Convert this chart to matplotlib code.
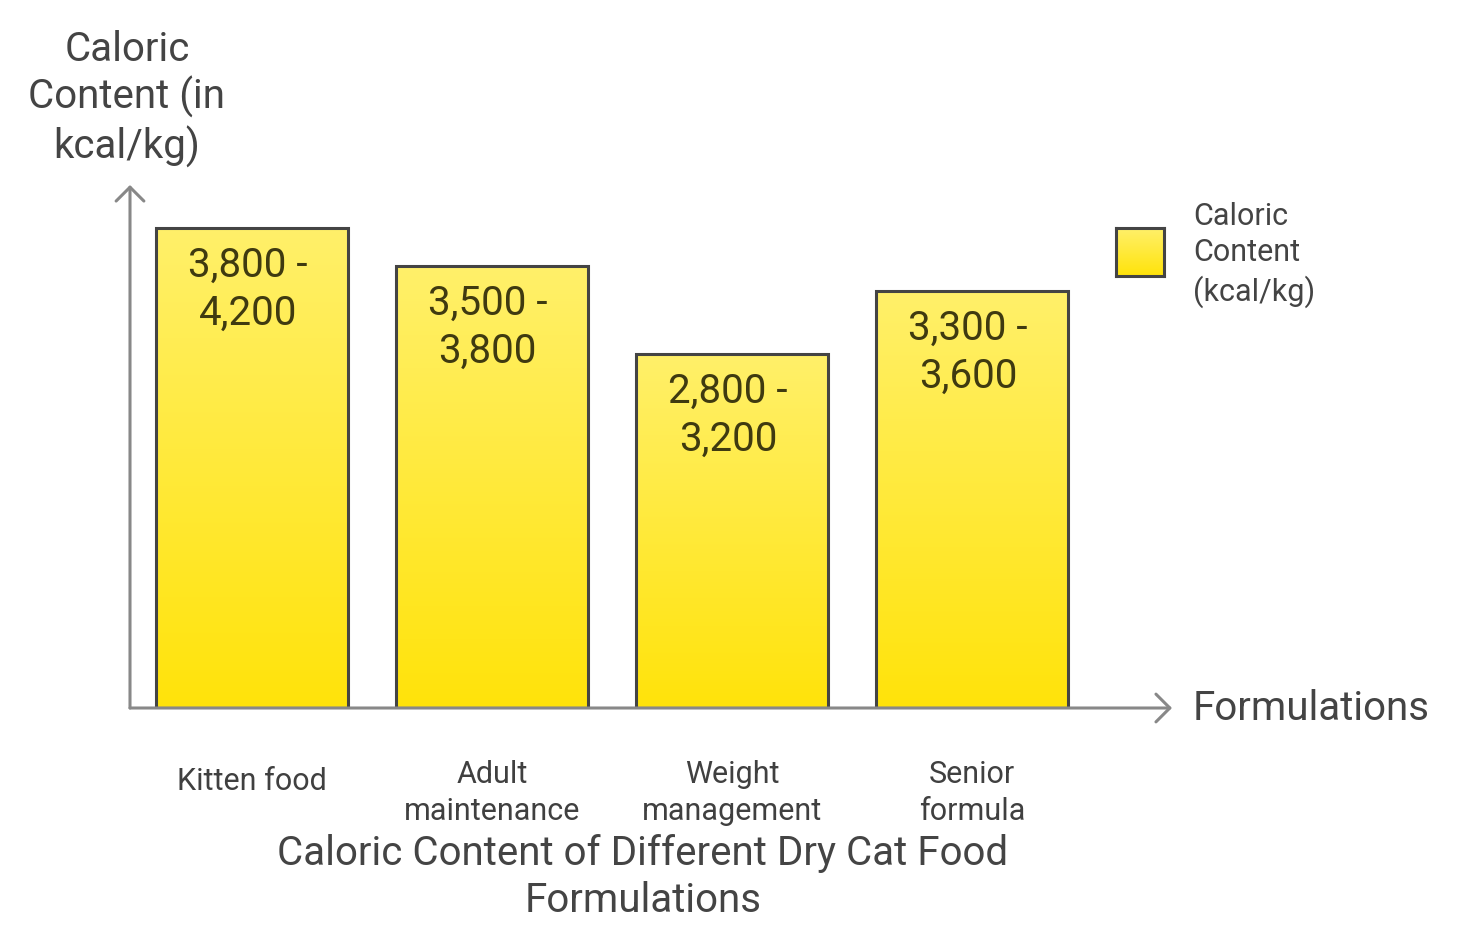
import matplotlib.pyplot as plt
import numpy as np
from matplotlib.colors import LinearSegmentedColormap
from matplotlib.transforms import blended_transform_factory

plt.rcParams['font.family'] = ['Roboto', 'DejaVu Sans']

categories = ["Kitten food", "Adult\nmaintenance", "Weight\nmanagement", "Senior\nformula"]
range_labels = ["3,800 -\n4,200", "3,500 -\n3,800", "2,800 -\n3,200", "3,300 -\n3,600"]
# bar heights as drawn (kcal/kg)
bar_heights = [4000, 3680, 2950, 3475]

W, H = 1476, 948
fig = plt.figure(figsize=(W / 100, H / 100), dpi=100)
ax = fig.add_axes([130 / W, (H - 708) / H, (1172 - 130) / W, (708 - 185) / H])
ax.axis("off")

grad = LinearSegmentedColormap.from_list("yel", ["#FFE30A", "#FFF06A"])
x = np.arange(len(categories))
bars = ax.bar(x, bar_heights, width=0.8, facecolor="none", edgecolor="#444444",
              linewidth=2.2, zorder=3)
g = np.linspace(0, 1, 256).reshape(-1, 1)
for b in bars:
    x0, y0 = b.get_x(), b.get_y()
    im = ax.imshow(g, cmap=grad, origin="lower", aspect="auto", zorder=2,
                   extent=[x0, x0 + b.get_width(), y0, y0 + b.get_height()])
    im.set_clip_path(b)
ax.set_xlim(-0.508, 3.833)
ax.set_ylim(0, 4358)

for xi, h, lab in zip(x, bar_heights, range_labels):
    ax.annotate(lab, (xi, h), xytext=(-3, -61 * 0.72), textcoords="offset points",
                ha="center", va="center", fontsize=29, color="#3f3a10",
                linespacing=1.3, zorder=4)

# axes with open arrow heads
axis_col = "#888888"
arrow = dict(arrowstyle="->,head_length=1.0,head_width=1.0",
             color=axis_col, lw=2.2, shrinkA=0, shrinkB=0)
ax.annotate("", xy=(3.833, 0), xytext=(-0.508, 0), annotation_clip=False,
            arrowprops=arrow)
ax.annotate("", xy=(-0.508, 4358), xytext=(-0.508, 0), annotation_clip=False,
            arrowprops=arrow)

tr = blended_transform_factory(ax.transData, fig.transFigure)
for xi, cat in zip(x, categories):
    yy = 781 if "\n" not in cat else 793
    ax.text(xi, 1 - yy / H, cat, transform=tr, ha="center", va="center",
            fontsize=22, color="#404040", linespacing=1.33)

fig.text(1193 / W, 1 - 709 / H, "Formulations", ha="left", va="center",
         fontsize=29, color="#444444")
fig.text(127 / W, 1 - 99 / H, "Caloric\nContent (in\nkcal/kg)", ha="center",
         va="center", fontsize=29, color="#444444", linespacing=1.21)
fig.text(643 / W, 1 - 877 / H, "Caloric Content of Different Dry Cat Food\nFormulations",
         ha="center", va="center", fontsize=29, color="#444444", linespacing=1.26)

# legend
lax = fig.add_axes([1116 / W, (H - 276) / H, 48 / W, 48 / H])
lax.imshow(g, cmap=grad, origin="lower", aspect="auto", extent=[0, 1, 0, 1])
lax.set_xticks([])
lax.set_yticks([])
for s in lax.spines.values():
    s.set_color("#444444")
    s.set_linewidth(2.2)
fig.text(1193 / W, 1 - 255 / H, "Caloric\nContent\n(kcal/kg)", ha="left", va="center",
         fontsize=22, color="#444444", linespacing=1.33)

fig.savefig("out.png", dpi=100)
